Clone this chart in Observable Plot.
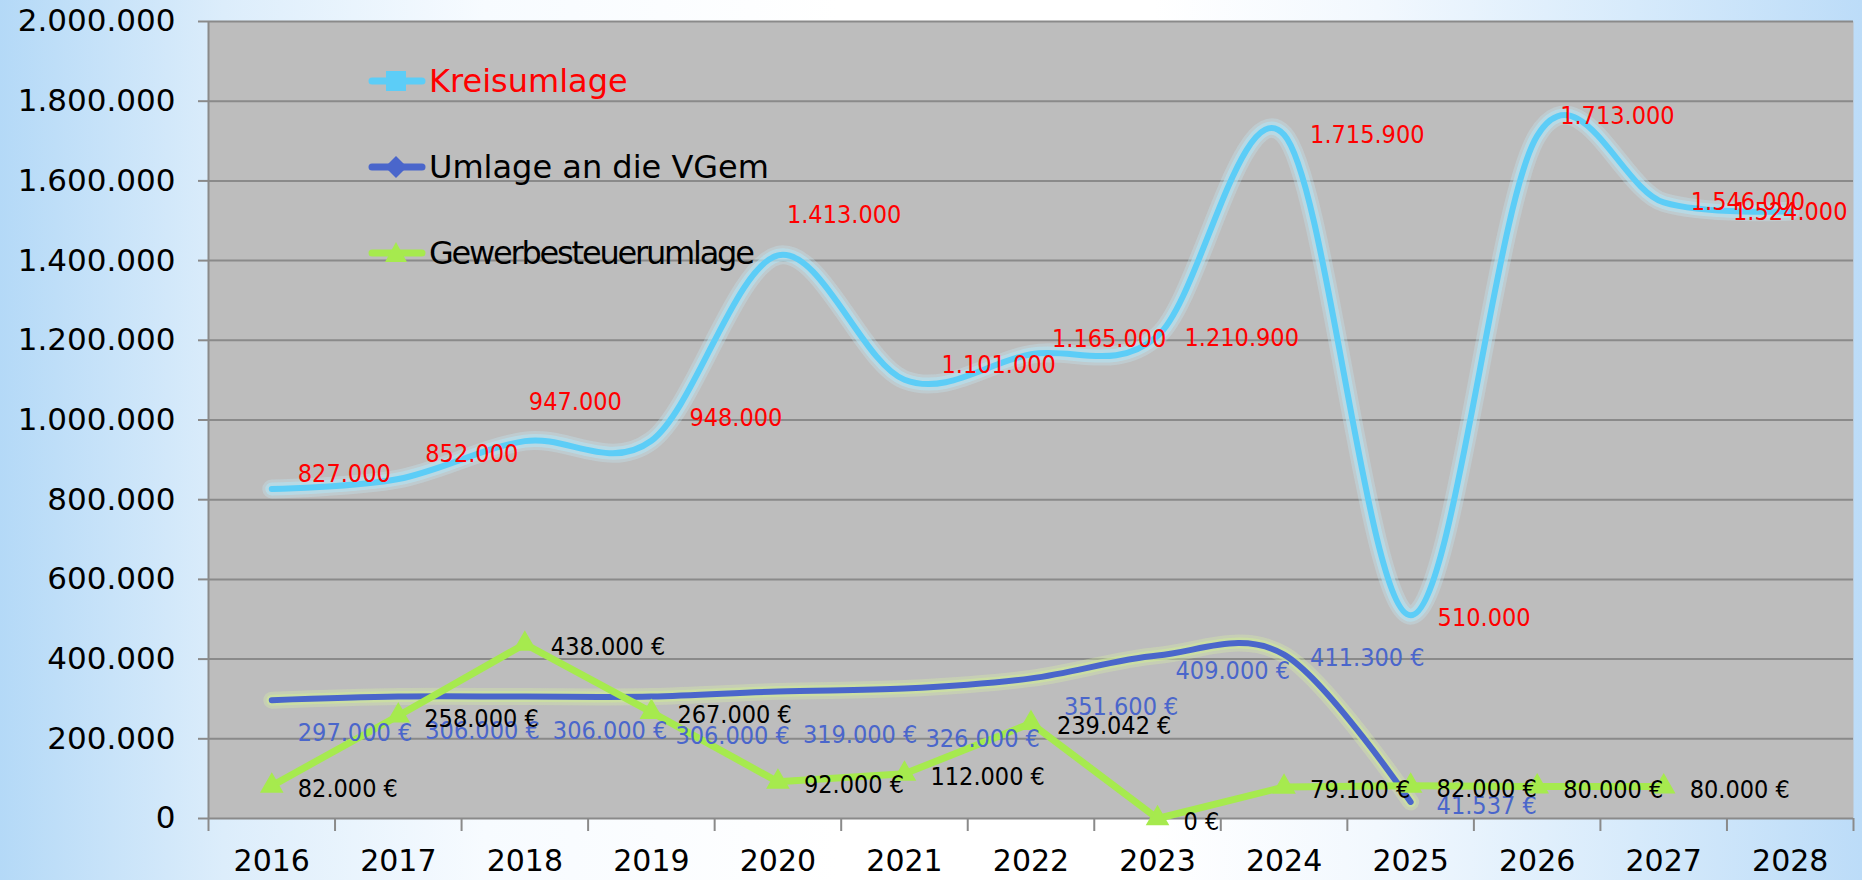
<!DOCTYPE html>
<html>
<head>
<meta charset="utf-8">
<script src="https://cdn.jsdelivr.net/npm/d3@7"></script>
<script src="https://cdn.jsdelivr.net/npm/@observablehq/plot@0.6"></script>
<style>
  html, body { margin: 0; padding: 0; }
  body {
    width: 1862px; height: 880px; overflow: hidden;
    background: linear-gradient(to right, #b4d9f7 0%, #dcedfb 12%, #f7fbff 26%, #ffffff 45%, #ffffff 62%, #f2f8fe 74%, #d6eafb 88%, #bcdcf8 100%);
    font-family: "DejaVu Sans", sans-serif;
  }
  #wrap { position: relative; width: 1862px; height: 880px; }
  #wrap > svg { position: absolute; left: 0; top: 0; }
  .leg { position: absolute; left: 366px; height: 40px; display: flex; align-items: center; font-size: 32px; font-family: "DejaVu Sans", sans-serif; white-space: nowrap; }
  .leg svg { display: block; margin-right: 3px; }
  .tight { letter-spacing: -2.2px; }
</style>
</head>
<body>
<div id="wrap"></div>
<script>
// ---- data ----
const years = [2016, 2017, 2018, 2019, 2020, 2021, 2022, 2023, 2024, 2025, 2026, 2027, 2028];
const kreisumlage = [827000, 852000, 947000, 948000, 1413000, 1101000, 1165000, 1210900, 1715900, 510000, 1713000, 1546000, 1524000];
const vgemYears = [2016, 2017, 2018, 2019, 2020, 2021, 2022, 2023, 2024, 2025];
const umlageVGem = [297000, 306000, 306000, 306000, 319000, 326000, 351600, 409000, 411300, 41537];
const gewYears = [2016, 2017, 2018, 2019, 2020, 2021, 2022, 2023, 2024, 2025, 2026, 2027];
const gewerbesteuerumlage = [82000, 258000, 438000, 267000, 92000, 112000, 239042, 0, 79100, 82000, 80000, 80000];
const yTicks = [0, 200000, 400000, 600000, 800000, 1000000, 1200000, 1400000, 1600000, 1800000, 2000000];
const seriesNames = ["Kreisumlage", "Umlage an die VGem", "Gewerbesteuerumlage"];

// ---- label layout nudges (px), mimicking the manually placed labels ----
const kreisLabelDx = [26, 27, 4, 38, 9, 37, 21, 27, 26, 27, 23, 27, 0];
const kreisLabelDy = [-15, -25, -39, -23, -40, -15, -15, 2, 0, 3, -20, 0, 1];
const vgemLabelDx = [26, 27, 28, 24, 25, 21, 33, 18, 26, 26];
const vgemLabelDy = [33, 34, 34, 39, 44, 50, 29, 15, 3, 4];

const de = d3.formatLocale({decimal: ",", thousands: ".", grouping: [3], currency: ["", " €"]});
const fmtNum = de.format(",d");
const fmtEur = de.format("$,d");

const kreisRows = years.map((y, i) => ({year: y, value: kreisumlage[i], dx: kreisLabelDx[i], dy: kreisLabelDy[i], anchor: i === years.length - 1 ? "middle" : "start"}));
const vgemRows = vgemYears.map((y, i) => ({year: y, value: umlageVGem[i], dx: vgemLabelDx[i], dy: vgemLabelDy[i]}));
const gewRows = gewYears.map((y, i) => ({year: y, value: gewerbesteuerumlage[i]}));

const boundaries = [years[0] - 0.5, ...years.map(y => y + 0.5)];

const cKreis = "#5ccdf7", cVGem = "#4a66cb", cGew = "#a6ea4e";
const grid = "#8a8a8a";
const labelFont = "DejaVu Sans Condensed, DejaVu Sans, sans-serif";

const plot = Plot.plot({
  width: 1862,
  height: 880,
  marginTop: 21,
  marginRight: 9,
  marginBottom: 62,
  marginLeft: 208,
  style: {background: "transparent", fontFamily: "DejaVu Sans, sans-serif"},
  x: {type: "linear", domain: [years[0] - 0.5, years[years.length - 1] + 0.5], label: null},
  y: {domain: [0, 2000000], label: null},
  marks: [
    Plot.frame({fill: "#bdbdbd", stroke: null}),
    Plot.ruleY(yTicks, {stroke: grid, strokeWidth: 2}),
    Plot.ruleX([boundaries[0]], {stroke: grid, strokeWidth: 2}),
    Plot.axisY({ticks: yTicks, tickSize: 10, tickPadding: 23, tickFormat: fmtNum, label: null,
      stroke: grid, strokeWidth: 2, fill: "black", fontSize: 31, fontFamily: "DejaVu Sans, sans-serif"}),
    Plot.axisX({ticks: boundaries, tickSize: 13, tickFormat: () => "", label: null, stroke: grid, strokeWidth: 2}),
    Plot.axisX({ticks: years, tickSize: 0, tickPadding: 31, tickFormat: d => String(d), label: null,
      fill: "black", fontSize: 30, fontFamily: "DejaVu Sans, sans-serif"}),

    // Kreisumlage: smoothed line with soft cyan glow
    Plot.line(kreisRows, {x: "year", y: "value", curve: "cardinal", stroke: "#c2ebf8", strokeWidth: 19, strokeOpacity: 0.3}),
    Plot.line(kreisRows, {x: "year", y: "value", curve: "cardinal", stroke: "#b3e5f5", strokeWidth: 13, strokeOpacity: 0.55}),
    Plot.line(kreisRows, {x: "year", y: "value", curve: "cardinal", stroke: cKreis, strokeWidth: 6}),

    // Umlage an die VGem: smoothed line with greenish glow
    Plot.line(vgemRows, {x: "year", y: "value", curve: "cardinal", stroke: "#d6eea6", strokeWidth: 17, strokeOpacity: 0.35}),
    Plot.line(vgemRows, {x: "year", y: "value", curve: "cardinal", stroke: "#cfe99a", strokeWidth: 11, strokeOpacity: 0.6}),
    Plot.line(vgemRows, {x: "year", y: "value", curve: "cardinal", stroke: cVGem, strokeWidth: 6}),

    // Gewerbesteuerumlage: straight line with triangles
    Plot.line(gewRows, {x: "year", y: "value", stroke: cGew, strokeWidth: 7}),
    Plot.dot(gewRows, {x: "year", y: "value", symbol: "triangle", r: 7.8, fill: cGew, stroke: cGew, strokeWidth: 1.5}),

    // data labels
    ...vgemRows.map(d => Plot.text([d], {x: "year", y: "value", text: r => fmtEur(r.value), dx: d.dx, dy: d.dy,
      textAnchor: "start", fill: cVGem, fontSize: 25, fontFamily: labelFont})),
    Plot.text(gewRows, {x: "year", y: "value", text: r => fmtEur(r.value), dx: 26, dy: 3,
      textAnchor: "start", fill: "black", fontSize: 25, fontFamily: labelFont}),
    ...kreisRows.map(d => Plot.text([d], {x: "year", y: "value", text: r => fmtNum(r.value), dx: d.dx, dy: d.dy,
      textAnchor: d.anchor, fill: "#ff0000", fontSize: 25, fontFamily: labelFont}))
  ]
});

const wrap = document.getElementById("wrap");
wrap.appendChild(plot);

// legend inside the plot area (top left)
const legendColors = [cKreis, cVGem, cGew];
const legendText = ["#ff0000", "#000000", "#000000"];
const legendCenters = [81, 167, 253];
const markerSvg = [
  `<rect x="20" y="5" width="20" height="20" fill="${cKreis}"/>`,
  `<polygon points="30,4 41,15 30,26 19,15" fill="${cVGem}"/>`,
  `<polygon points="30,4 41,24 19,24" fill="${cGew}"/>`
];
seriesNames.forEach((name, i) => {
  const div = document.createElement("div");
  div.className = "leg";
  div.style.top = (legendCenters[i] - 20) + "px";
  div.innerHTML = `<svg width="60" height="30" viewBox="0 0 60 30"><line x1="6" y1="15" x2="56" y2="15" stroke="${legendColors[i]}" stroke-width="7" stroke-linecap="round"/>${markerSvg[i]}</svg><span class="${i === 2 ? "tight" : ""}" style="color:${legendText[i]}">${name}</span>`;
  wrap.appendChild(div);
});
</script>
</body>
</html>
